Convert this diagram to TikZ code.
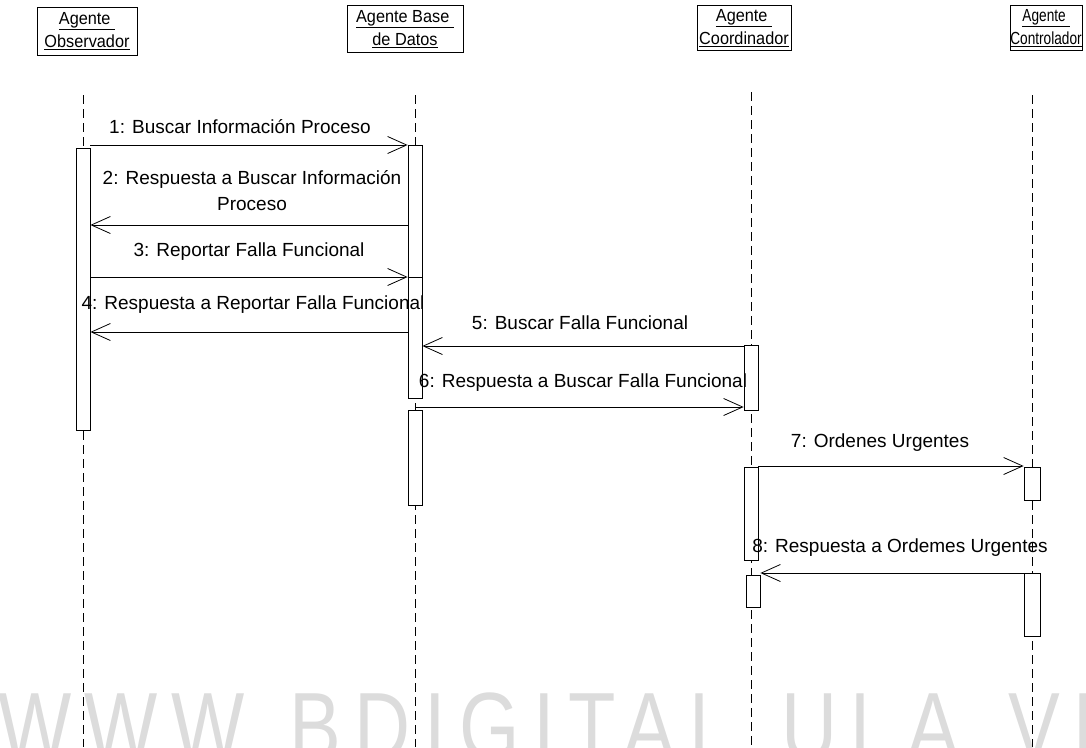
\documentclass[tikz,border=0pt]{standalone}
\usepackage{fontspec}
\setmainfont{Liberation Sans}
\newfontfamily\wmfont[FakeStretch=0.8,LetterSpace=14]{Liberation Sans}
\newfontfamily\hdfont[FakeStretch=0.93]{Liberation Sans}
\newfontfamily\hdnarrow[FakeStretch=0.78]{Liberation Sans}
\usetikzlibrary{arrows.meta}
\definecolor{wmgray}{HTML}{DCDCDC}
\begin{document}
\begin{tikzpicture}[x=1pt,y=-1pt,
  agent/.style={draw,line width=0.8pt,inner sep=0pt,align=center,font=\hdfont\fontsize{17.5}{23}\selectfont},
  narrowagent/.style={agent,font=\hdnarrow\fontsize{17.5}{23}\selectfont},
  lifeline/.style={line width=0.7pt,dash pattern=on 9pt off 5pt},
  actbar/.style={draw,fill=white,line width=0.8pt,inner sep=0pt,minimum width=14pt,anchor=north},
  msg/.style={line width=0.8pt,-{Straight Barb[length=19pt,width=17pt,line width=0.8pt]}},
  msglabel/.style={inner sep=0pt,align=center,font=\fontsize{19}{26}\selectfont},
  watermark/.style={inner sep=0pt,anchor=base west,text=wmgray,font=\wmfont\fontsize{97}{97}\selectfont}]

\useasboundingbox (0,0) rectangle (1086,747);

% faint watermark along the bottom edge
\begin{scope}
  \clip (0,0) rectangle (1086,747);
  \node[watermark] (wm) at (-2,760) {WWW.BDIGITAL.ULA.VE};
\end{scope}

% agents
\node[agent,minimum width=100pt,minimum height=48pt] (obs) at (87,31) {\underline{Agente\ }\\\underline{Observador}};
\node[agent,minimum width=116pt,minimum height=47pt] (base) at (405,29) {\underline{Agente Base\ }\\\underline{de Datos}};
\node[agent,minimum width=94pt,minimum height=45pt] (coord) at (744,28) {\underline{Agente\ }\\\underline{Coordinador}};
\node[narrowagent,minimum width=72pt,minimum height=45pt] (ctrl) at (1046,28) {\underline{Agente\ }\\\underline{Controlador}};

% lifelines
\coordinate (obsTop) at (83,95);   \coordinate (obsBot) at (83,747);
\coordinate (baseTop) at (415,95); \coordinate (baseBot) at (415,747);
\coordinate (coordTop) at (751,92); \coordinate (coordBot) at (751,747);
\coordinate (ctrlTop) at (1032,95); \coordinate (ctrlBot) at (1032,747);
\draw[lifeline] (obsTop) -- (obsBot);
\draw[lifeline] (baseTop) -- (baseBot);
\draw[lifeline] (coordTop) -- (coordBot);
\draw[lifeline] (ctrlTop) -- (ctrlBot);

% activation bars
\node[actbar,minimum height=282pt] (obsA) at (83,148) {};
\node[actbar,minimum height=132pt] (baseA) at (415,145) {};
\node[actbar,minimum height=121pt] (baseB) at (415,277) {};
\node[actbar,minimum height=95pt] (baseC) at (415,410) {};
\node[actbar,minimum height=65pt] (coordA) at (751,345) {};
\node[actbar,minimum height=93pt] (coordB) at (751,467) {};
\node[actbar,minimum height=32pt] (coordC) at (753,575) {};
\node[actbar,minimum width=16pt,minimum height=33pt] (ctrlA) at (1032,467) {};
\node[actbar,minimum width=16pt,minimum height=63pt] (ctrlB) at (1032,573) {};

% message heights
\coordinate (y1) at (0,145);
\coordinate (y2) at (0,225);
\coordinate (y3) at (0,277);
\coordinate (y4) at (0,332);
\coordinate (y5) at (0,346);
\coordinate (y6) at (0,407);
\coordinate (y7) at (0,466);
\coordinate (y8) at (0,573);

% messages
\draw[msg] (obsA.east |- y1) -- (baseA.west |- y1);
\draw[msg] (baseA.west |- y2) -- (obsA.east |- y2);
\draw[msg] (obsA.east |- y3) -- (baseA.west |- y3);
\draw[msg] (baseB.west |- y4) -- (obsA.east |- y4);
\draw[msg] (coordA.west |- y5) -- (baseB.east |- y5);
\draw[msg] (baseB.south |- y6) -- (coordA.west |- y6);
\draw[msg] (coordB.east |- y7) -- (ctrlA.west |- y7);
\draw[msg] (ctrlB.west |- y8) -- (coordC.east |- y8);

% message labels
\node[msglabel] (l1) at (240,127) {1: Buscar Información Proceso};
\node[msglabel] (l2) at (252,191) {2: Respuesta a Buscar Información\\Proceso};
\node[msglabel] (l3) at (249,252) {3: Reportar Falla Funcional};
\node[msglabel] (l4) at (253,305) {4: Respuesta a Reportar Falla Funcional};
\node[msglabel] (l5) at (580,323) {5: Buscar Falla Funcional};
\node[msglabel] (l6) at (583,383) {6: Respuesta a Buscar Falla Funcional};
\node[msglabel] (l7) at (880,443) {7: Ordenes Urgentes};
\node[msglabel] (l8) at (900,548) {8: Respuesta a Ordemes Urgentes};
\end{tikzpicture}
\end{document}
